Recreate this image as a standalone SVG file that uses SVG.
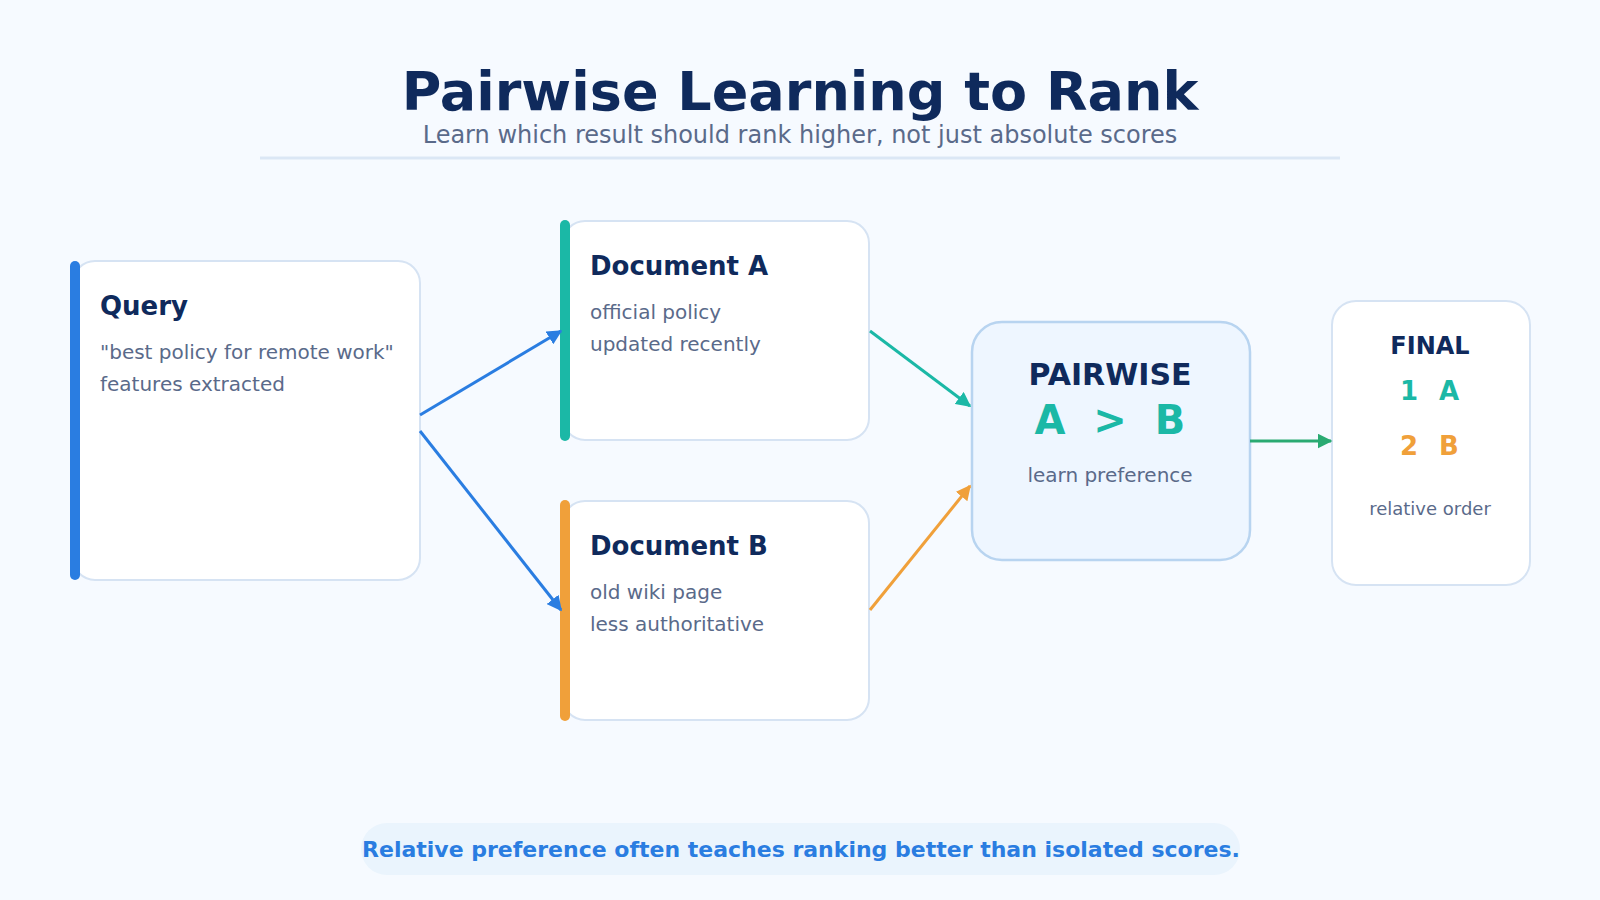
<svg xmlns="http://www.w3.org/2000/svg" width="1600" height="900" viewBox="0 0 1600 900">
<defs>
<marker id="ah-blue" viewBox="0 0 10 10" refX="9" refY="5" markerWidth="5" markerHeight="5" orient="auto" markerUnits="strokeWidth"><path d="M0,0 L10,5 L0,10 z" fill="#2a7de1"/></marker>
<marker id="ah-teal" viewBox="0 0 10 10" refX="9" refY="5" markerWidth="5" markerHeight="5" orient="auto" markerUnits="strokeWidth"><path d="M0,0 L10,5 L0,10 z" fill="#1bb8a6"/></marker>
<marker id="ah-orange" viewBox="0 0 10 10" refX="9" refY="5" markerWidth="5" markerHeight="5" orient="auto" markerUnits="strokeWidth"><path d="M0,0 L10,5 L0,10 z" fill="#f0a03a"/></marker>
<marker id="ah-green" viewBox="0 0 10 10" refX="9" refY="5" markerWidth="5" markerHeight="5" orient="auto" markerUnits="strokeWidth"><path d="M0,0 L10,5 L0,10 z" fill="#2aaa72"/></marker>
</defs>
<style>
text{font-family:"DejaVu Sans","Noto Sans",sans-serif}
.card{fill:#ffffff;stroke:#d6e3f3;stroke-width:2}
.ttl{font-size:26px;font-weight:bold;fill:#0f2a5c}
.body{font-size:20px;fill:#5a6a8a}
.conn{fill:none;stroke-width:3}
</style>
<rect x="0" y="0" width="1600" height="900" fill="#f6faff"/>
<g id="header">
<text x="800" y="110" text-anchor="middle" font-size="54" font-weight="bold" fill="#0f2a5c">Pairwise Learning to Rank</text>
<text x="800" y="143" text-anchor="middle" font-size="24" fill="#5a6a8a">Learn which result should rank higher, not just absolute scores</text>
<line x1="260" y1="158" x2="1340" y2="158" stroke="#dbe7f5" stroke-width="3"/>
</g>
<g id="query">
<rect class="card" x="73" y="261" width="347" height="319" rx="22"/>
<rect x="70" y="261" width="10" height="319" rx="5" fill="#2a7de1"/>
<text class="ttl" x="100" y="315">Query</text>
<text class="body" x="100" y="359">"best policy for remote work"</text>
<text class="body" x="100" y="391">features extracted</text>
</g>
<g id="docA">
<rect class="card" x="563" y="221" width="306" height="219" rx="22"/>
<rect x="560" y="220" width="10" height="221" rx="5" fill="#1bb8a6"/>
<text class="ttl" x="590" y="275">Document A</text>
<text class="body" x="590" y="319">official policy</text>
<text class="body" x="590" y="351">updated recently</text>
</g>
<g id="docB">
<rect class="card" x="563" y="501" width="306" height="219" rx="22"/>
<rect x="560" y="500" width="10" height="221" rx="5" fill="#f0a03a"/>
<text class="ttl" x="590" y="555">Document B</text>
<text class="body" x="590" y="599">old wiki page</text>
<text class="body" x="590" y="631">less authoritative</text>
</g>
<g id="pairwise">
<rect x="972" y="322" width="278" height="238" rx="30" fill="#eef6ff" stroke="#b8d4f0" stroke-width="2.5"/>
<text x="1110" y="385" text-anchor="middle" font-size="30" font-weight="bold" fill="#0f2a5c">PAIRWISE</text>
<text x="1050" y="434" text-anchor="middle" font-size="40" font-weight="bold" fill="#1bb8a6">A</text>
<text x="1110" y="434" text-anchor="middle" font-size="40" font-weight="bold" fill="#1bb8a6">&gt;</text>
<text x="1170" y="434" text-anchor="middle" font-size="40" font-weight="bold" fill="#1bb8a6">B</text>
<text x="1110" y="482" text-anchor="middle" font-size="20" fill="#5a6a8a">learn preference</text>
</g>
<g id="final">
<rect class="card" x="1332" y="301" width="198" height="284" rx="24"/>
<text x="1430" y="354" text-anchor="middle" font-size="24" font-weight="bold" fill="#0f2a5c">FINAL</text>
<text x="1409" y="400" text-anchor="middle" font-size="26" font-weight="bold" fill="#1bb8a6">1</text>
<text x="1449" y="400" text-anchor="middle" font-size="26" font-weight="bold" fill="#1bb8a6">A</text>
<text x="1409" y="455" text-anchor="middle" font-size="26" font-weight="bold" fill="#f0a03a">2</text>
<text x="1449" y="455" text-anchor="middle" font-size="26" font-weight="bold" fill="#f0a03a">B</text>
<text x="1430" y="515" text-anchor="middle" font-size="18" fill="#5a6a8a">relative order</text>
</g>
<g id="connectors">
<line class="conn" x1="420" y1="415" x2="561" y2="331" stroke="#2a7de1" marker-end="url(#ah-blue)"/>
<line class="conn" x1="420" y1="431" x2="561" y2="610" stroke="#2a7de1" marker-end="url(#ah-blue)"/>
<line class="conn" x1="870" y1="331" x2="970" y2="406" stroke="#1bb8a6" marker-end="url(#ah-teal)"/>
<line class="conn" x1="870" y1="610" x2="970" y2="486" stroke="#f0a03a" marker-end="url(#ah-orange)"/>
<line class="conn" x1="1250" y1="441" x2="1331" y2="441" stroke="#2aaa72" marker-end="url(#ah-green)"/>
</g>
<g id="footer">
<rect x="361" y="823" width="879" height="52" rx="26" fill="#eaf4fd"/>
<text x="801" y="857" text-anchor="middle" font-size="22" font-weight="bold" fill="#2a7de1">Relative preference often teaches ranking better than isolated scores.</text>
</g>
</svg>
